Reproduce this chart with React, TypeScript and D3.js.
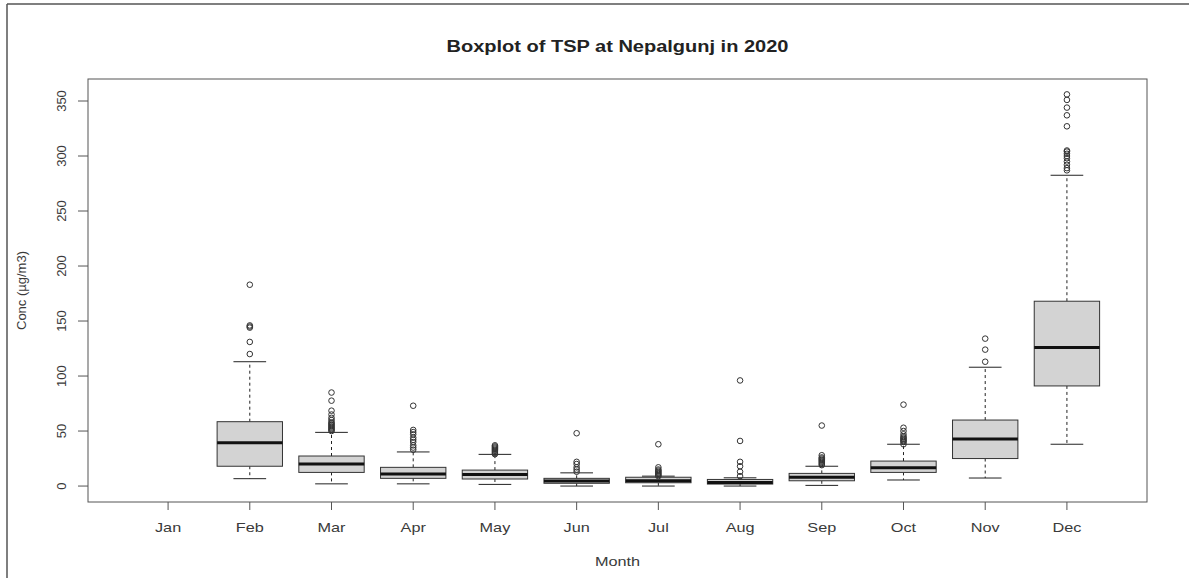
import React from "react";
import * as d3 from "d3";

const months = ["Jan", "Feb", "Mar", "Apr", "May", "Jun", "Jul", "Aug", "Sep", "Oct", "Nov", "Dec"];
const lowWhisker = [null, 6.7, 2, 2, 1.5, 0, 0, 0, 0.6, 5.5, 7.3, 38];
const q1 = [null, 18, 12.4, 7, 6.4, 2.5, 3, 1.8, 4.8, 12.4, 25, 91];
const medians = [null, 39.4, 20, 11, 10.6, 4.5, 4.8, 3.3, 8, 16.7, 42.7, 126];
const q3 = [null, 58.5, 27.3, 17, 14.5, 7, 8, 6, 11.5, 22.7, 60, 168];
const highWhisker = [null, 113, 48.8, 31, 28.8, 12, 9, 7.5, 18, 38, 108, 282.5];
const outliers: number[][] = [
  [],
  [120, 131, 144, 145, 146, 183],
  [50, 51, 52, 53, 54, 55, 56, 57, 58, 60, 62, 65, 68.5, 77.6, 85],
  [33, 35, 37, 40, 42, 44, 47, 49, 51, 73],
  [29, 30, 31, 32, 33, 34, 35, 36, 37],
  [13, 15, 17, 20, 22, 48],
  [9, 10, 11, 12, 13, 14, 15, 17, 38],
  [9, 13, 18, 22, 41, 96],
  [19, 20, 21, 22, 23, 24, 25, 26, 28, 55],
  [38, 40, 41, 42, 43, 44, 45, 47, 50, 53, 74],
  [113, 124, 134],
  [287, 289, 292, 295, 298, 300, 302, 304, 305, 327, 337, 344, 351, 356],
];
const yTicks = [0, 50, 100, 150, 200, 250, 300, 350];

const W = 1189;
const H = 578;
const L = 88, R = 1147, T = 79, B = 502;
const FONT = "'Liberation Sans', Arial, sans-serif";
const TXT = "#3a3a3a";
const SX = 1.25;

export default function App() {
  const x = d3.scaleLinear().domain([0.02, 12.98]).range([L, R]);
  const y = d3.scaleLinear().domain([-14.5, 370]).range([B, T]);
  const unit = x(2) - x(1);
  const bw = unit * 0.8;
  const sw = bw * 0.5;

  return (
    <div style={{ position: "absolute", left: 0, top: 0 }}>
      <svg width={W} height={H} style={{ display: "block", background: "#fff" }}>
        {/* outer frame */}
        <line x1={7} y1={4} x2={W} y2={4} stroke="#555" strokeWidth={1.5} />
        <line x1={7} y1={4} x2={7} y2={H} stroke="#555" strokeWidth={1.5} />

        <text
          transform={`translate(${(L + R) / 2},52) scale(${SX},1)`}
          textAnchor="middle"
          fontFamily={FONT}
          fontWeight="bold"
          fontSize={16}
          fill="#222"
        >
          Boxplot of TSP at Nepalgunj in 2020
        </text>

        {/* boxes */}
        {months.map((m, i) => {
          if (medians[i] == null) return null;
          const cx = x(i + 1);
          const pts = outliers[i];
          return (
            <g key={m}>
              <line x1={cx} x2={cx} y1={y(q3[i] as number)} y2={y(highWhisker[i] as number)} stroke="#222" strokeDasharray="3,3" />
              <line x1={cx} x2={cx} y1={y(q1[i] as number)} y2={y(lowWhisker[i] as number)} stroke="#222" strokeDasharray="3,3" />
              <line x1={cx - sw / 2} x2={cx + sw / 2} y1={y(highWhisker[i] as number)} y2={y(highWhisker[i] as number)} stroke="#222" />
              <line x1={cx - sw / 2} x2={cx + sw / 2} y1={y(lowWhisker[i] as number)} y2={y(lowWhisker[i] as number)} stroke="#222" />
              <rect
                x={cx - bw / 2}
                y={y(q3[i] as number)}
                width={bw}
                height={y(q1[i] as number) - y(q3[i] as number)}
                fill="#d3d3d3"
                stroke="#333"
              />
              <line x1={cx - bw / 2} x2={cx + bw / 2} y1={y(medians[i] as number)} y2={y(medians[i] as number)} stroke="#111" strokeWidth={3} />
              {pts.map((v, k) => (
                <circle key={k} cx={cx} cy={y(v)} r={2.8} fill="none" stroke="#333" strokeWidth={1} />
              ))}
            </g>
          );
        })}

        {/* plot frame */}
        <rect x={L} y={T} width={R - L} height={B - T} fill="none" stroke="#555" strokeWidth={1} />

        {/* y axis */}
        {yTicks.map((t) => (
          <g key={t}>
            <line x1={L - 10} x2={L} y1={y(t)} y2={y(t)} stroke="#555" />
            <text
              transform={`translate(${L - 22},${y(t)}) rotate(-90)`}
              textAnchor="middle"
              fontFamily={FONT}
              fontSize={13}
              fill={TXT}
            >
              {t}
            </text>
          </g>
        ))}
        <text transform={`translate(26,${(T + B) / 2}) rotate(-90)`} textAnchor="middle" fontFamily={FONT} fontSize={13} fill={TXT}>
          Conc (µg/m3)
        </text>

        {/* x axis */}
        {months.map((m, i) => (
          <g key={m}>
            <line x1={x(i + 1)} x2={x(i + 1)} y1={B} y2={B + 8} stroke="#555" />
            <text
              transform={`translate(${x(i + 1)},532) scale(${SX},1)`}
              textAnchor="middle"
              fontFamily={FONT}
              fontSize={13}
              fill={TXT}
            >
              {m}
            </text>
          </g>
        ))}
        <text
          transform={`translate(${(L + R) / 2},566) scale(${SX},1)`}
          textAnchor="middle"
          fontFamily={FONT}
          fontSize={13}
          fill={TXT}
        >
          Month
        </text>
      </svg>
    </div>
  );
}
